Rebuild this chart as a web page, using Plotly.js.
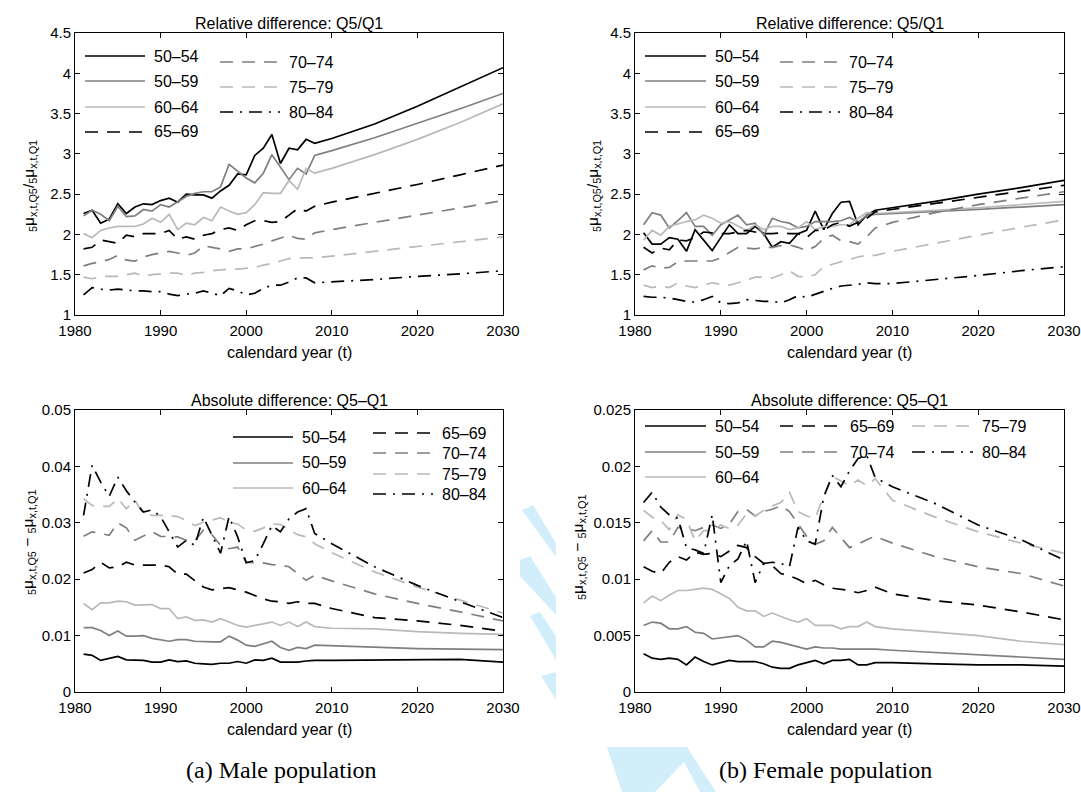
<!DOCTYPE html>
<html>
<head>
<meta charset="utf-8">
<script src="https://cdn.plot.ly/plotly-3.0.1.min.js"></script>
<style>
  html, body { margin: 0; padding: 0; background: #fff; }
  #chart { width: 1081px; height: 792px; }
</style>
</head>
<body>
<div id="chart"></div>
<script>
// Observed years 1981-2008, then projection years up to 2030
const yearsObs = [1981,1982,1983,1984,1985,1986,1987,1988,1989,1990,1991,1992,1993,1994,
                  1995,1996,1997,1998,1999,2000,2001,2002,2003,2004,2005,2006,2007,2008];
const yearsProj = [2010,2015,2020,2025,2030];

const ageGroups = ['50–54','50–59','60–64','65–69','70–74','75–79','80–84'];

// Male, relative difference Q5/Q1
const maleRel5054 = [2.26,2.30,2.14,2.19,2.38,2.26,2.34,2.38,2.37,2.42,2.45,2.40,2.50,2.49,2.49,2.45,2.54,2.61,2.75,2.74,2.98,3.07,3.24,2.88,3.07,3.05,3.18,3.13, 3.19,3.37,3.59,3.83,4.07];
const maleRel5059 = [2.23,2.30,2.25,2.17,2.35,2.22,2.23,2.31,2.29,2.37,2.34,2.41,2.47,2.51,2.53,2.53,2.59,2.87,2.78,2.70,2.64,2.76,2.99,2.84,2.68,2.82,2.75,2.98, 3.04,3.20,3.38,3.56,3.75];
const maleRel6064 = [2.01,1.96,2.05,2.08,2.10,2.10,2.10,2.13,2.20,2.15,2.25,2.06,2.14,2.12,2.21,2.17,2.34,2.29,2.25,2.27,2.37,2.52,2.51,2.51,2.67,2.56,2.82,2.76, 2.82,2.99,3.18,3.39,3.62];
const maleRel6569 = [1.82,1.84,1.93,1.91,1.89,1.99,1.97,2.01,2.01,2.01,2.05,1.94,1.97,1.94,1.99,2.01,2.06,2.08,2.05,2.12,2.17,2.17,2.15,2.16,2.24,2.32,2.29,2.35, 2.40,2.51,2.62,2.74,2.86];
const maleRel7074 = [1.61,1.64,1.66,1.69,1.74,1.68,1.67,1.72,1.75,1.77,1.79,1.77,1.74,1.77,1.86,1.84,1.82,1.79,1.82,1.82,1.85,1.88,1.92,1.96,1.99,1.95,1.94,2.02, 2.06,2.15,2.24,2.33,2.42];
const maleRel7579 = [1.47,1.45,1.48,1.48,1.48,1.50,1.52,1.48,1.50,1.51,1.52,1.52,1.49,1.52,1.53,1.55,1.56,1.57,1.57,1.58,1.59,1.62,1.64,1.67,1.70,1.71,1.71,1.71, 1.73,1.79,1.85,1.91,1.97];
const maleRel8084 = [1.25,1.34,1.32,1.31,1.32,1.31,1.30,1.30,1.29,1.29,1.26,1.24,1.26,1.27,1.30,1.27,1.24,1.33,1.30,1.25,1.27,1.33,1.37,1.37,1.41,1.46,1.46,1.40, 1.41,1.44,1.48,1.51,1.55];

// Female, relative difference Q5/Q1
const femaleRel5054 = [2.02,1.88,1.88,1.96,1.94,1.79,2.06,1.93,1.80,1.96,2.12,2.01,2.01,2.10,2.01,1.84,1.91,1.89,2.01,2.05,2.29,2.06,2.26,2.40,2.41,2.12,2.24,2.30, 2.33,2.41,2.50,2.58,2.67];
const femaleRel5059 = [2.12,2.27,2.24,2.08,2.17,2.27,2.10,2.10,1.99,2.12,2.18,2.24,2.12,2.14,1.99,2.20,2.16,2.14,2.08,2.10,2.16,2.16,2.16,2.17,2.21,2.15,2.24,2.25, 2.26,2.28,2.31,2.34,2.37];
const femaleRel6064 = [1.93,2.05,1.99,2.10,2.13,2.16,2.18,2.24,2.20,2.14,2.16,2.10,2.05,2.12,2.06,2.10,2.10,2.06,2.08,2.16,2.06,2.10,2.10,2.12,2.12,2.20,2.27,2.26, 2.27,2.30,2.33,2.37,2.41];
const femaleRel6569 = [1.84,1.77,1.83,1.81,1.93,1.92,1.96,2.03,2.02,2.01,2.01,2.03,2.05,2.03,2.01,2.01,2.02,2.01,2.01,1.96,2.05,2.05,2.12,2.15,2.10,2.15,2.20,2.28, 2.31,2.38,2.46,2.53,2.61];
const femaleRel7074 = [1.56,1.61,1.58,1.59,1.66,1.67,1.67,1.67,1.67,1.71,1.77,1.84,1.83,1.82,1.84,1.84,1.86,1.87,1.84,1.80,1.85,1.95,1.99,1.92,1.91,1.88,1.97,2.08, 2.15,2.27,2.37,2.45,2.53];
const femaleRel7579 = [1.37,1.34,1.36,1.34,1.40,1.36,1.34,1.37,1.40,1.38,1.37,1.40,1.44,1.47,1.47,1.46,1.50,1.55,1.48,1.47,1.50,1.60,1.63,1.66,1.69,1.72,1.74,1.74, 1.79,1.89,1.99,2.09,2.18];
const femaleRel8084 = [1.23,1.22,1.22,1.21,1.19,1.17,1.16,1.19,1.23,1.15,1.14,1.15,1.19,1.18,1.17,1.17,1.15,1.19,1.24,1.22,1.26,1.29,1.33,1.36,1.37,1.38,1.40,1.39, 1.39,1.44,1.49,1.55,1.60];

// Male, absolute difference Q5-Q1
const maleAbs5054 = [0.0067,0.0065,0.0056,0.0059,0.0063,0.0057,0.0056,0.0056,0.0053,0.0053,0.0057,0.0054,0.0055,0.0051,0.0050,0.0049,0.0051,0.0051,0.0054,0.0051,0.0057,0.0056,0.0060,0.0053,0.0053,0.0053,0.0055,0.0056, 0.0056,0.0057,0.0058,0.0058,0.0053];
const maleAbs5059 = [0.0114,0.0114,0.0109,0.0100,0.0108,0.0099,0.0099,0.0100,0.0095,0.0093,0.0090,0.0093,0.0093,0.0090,0.0089,0.0089,0.0089,0.0099,0.0092,0.0083,0.0081,0.0085,0.0090,0.0079,0.0074,0.0079,0.0077,0.0083, 0.0082,0.0079,0.0077,0.0076,0.0075];
const maleAbs6064 = [0.0157,0.0146,0.0158,0.0158,0.0161,0.0160,0.0154,0.0155,0.0155,0.0148,0.0148,0.0130,0.0133,0.0127,0.0128,0.0124,0.0130,0.0124,0.0118,0.0115,0.0118,0.0122,0.0124,0.0118,0.0124,0.0116,0.0124,0.0116, 0.0113,0.0112,0.0107,0.0104,0.0102];
const maleAbs6569 = [0.0211,0.0217,0.0230,0.0220,0.0222,0.0230,0.0225,0.0225,0.0225,0.0225,0.0222,0.0209,0.0209,0.0198,0.0186,0.0181,0.0183,0.0185,0.0181,0.0177,0.0171,0.0165,0.0161,0.0160,0.0157,0.0160,0.0157,0.0157, 0.0148,0.0132,0.0126,0.0118,0.0108];
const maleAbs7074 = [0.0276,0.0284,0.0281,0.0278,0.0300,0.0291,0.0269,0.0276,0.0284,0.0276,0.0276,0.0275,0.0269,0.0268,0.0287,0.0279,0.0260,0.0254,0.0257,0.0230,0.0229,0.0229,0.0226,0.0225,0.0222,0.0210,0.0198,0.0207, 0.0197,0.0174,0.0157,0.0142,0.0126];
const maleAbs7579 = [0.0343,0.0331,0.0329,0.0329,0.0343,0.0325,0.0340,0.0315,0.0313,0.0313,0.0313,0.0311,0.0304,0.0295,0.0301,0.0305,0.0309,0.0301,0.0298,0.0287,0.0285,0.0291,0.0298,0.0297,0.0288,0.0279,0.0275,0.0263, 0.0247,0.0213,0.0186,0.0163,0.0140];
const maleAbs8084 = [0.0313,0.0402,0.0372,0.0347,0.0381,0.0357,0.0337,0.0319,0.0323,0.0311,0.0284,0.0257,0.0269,0.0260,0.0310,0.0278,0.0246,0.0311,0.0275,0.0229,0.0233,0.0263,0.0295,0.0284,0.0307,0.0319,0.0325,0.0281, 0.0263,0.0222,0.0189,0.0160,0.0132];

// Female, absolute difference Q5-Q1
const femaleAbs5054 = [0.0034,0.0030,0.0029,0.0030,0.0029,0.0024,0.0031,0.0027,0.0024,0.0026,0.0028,0.0027,0.0027,0.0027,0.0025,0.0022,0.0021,0.0021,0.0024,0.0026,0.0028,0.0025,0.0028,0.0028,0.0029,0.0024,0.0024,0.0026, 0.0026,0.0025,0.0024,0.0024,0.0023];
const femaleAbs5059 = [0.0059,0.0062,0.0061,0.0056,0.0056,0.0058,0.0053,0.0052,0.0047,0.0048,0.0049,0.0050,0.0046,0.0040,0.0040,0.0045,0.0044,0.0042,0.0040,0.0038,0.0040,0.0039,0.0039,0.0038,0.0038,0.0038,0.0038,0.0038, 0.0037,0.0035,0.0033,0.0031,0.0029];
const femaleAbs6064 = [0.0079,0.0085,0.0081,0.0086,0.0090,0.0090,0.0091,0.0092,0.0091,0.0087,0.0083,0.0075,0.0072,0.0072,0.0067,0.0070,0.0067,0.0064,0.0062,0.0065,0.0059,0.0059,0.0059,0.0056,0.0058,0.0058,0.0062,0.0058, 0.0056,0.0053,0.0050,0.0045,0.0042];
const femaleAbs6569 = [0.0111,0.0107,0.0105,0.0115,0.0120,0.0117,0.0124,0.0122,0.0123,0.0120,0.0125,0.0130,0.0128,0.0120,0.0114,0.0112,0.0105,0.0103,0.0100,0.0096,0.0099,0.0095,0.0092,0.0091,0.0090,0.0088,0.0090,0.0093, 0.0087,0.0081,0.0077,0.0071,0.0064];
const femaleAbs7074 = [0.0134,0.0143,0.0133,0.0133,0.0146,0.0145,0.0143,0.0146,0.0148,0.0145,0.0149,0.0160,0.0162,0.0156,0.0160,0.0162,0.0165,0.0160,0.0149,0.0138,0.0131,0.0134,0.0146,0.0137,0.0128,0.0131,0.0135,0.0138, 0.0132,0.0120,0.0111,0.0105,0.0094];
const femaleAbs7579 = [0.0161,0.0155,0.0152,0.0144,0.0157,0.0153,0.0134,0.0143,0.0143,0.0148,0.0145,0.0148,0.0158,0.0156,0.0161,0.0165,0.0168,0.0177,0.0160,0.0156,0.0154,0.0174,0.0191,0.0187,0.0183,0.0188,0.0183,0.0189, 0.0170,0.0155,0.0142,0.0132,0.0123];
const femaleAbs8084 = [0.0168,0.0177,0.0164,0.0157,0.0154,0.0128,0.0126,0.0123,0.0157,0.0097,0.0112,0.0118,0.0134,0.0097,0.0114,0.0115,0.0114,0.0111,0.0146,0.0134,0.0131,0.0173,0.0192,0.0182,0.0196,0.0207,0.0210,0.0190, 0.0182,0.0167,0.0148,0.0135,0.0117];

const xTickVals = [1980,1990,2000,2010,2020,2030];
const relTickVals = [1,1.5,2,2.5,3,3.5,4,4.5];
const relTickText = ['1','1.5','2','2.5','3','3.5','4','4.5'];
const maleAbsTickVals = [0,0.01,0.02,0.03,0.04,0.05];
const maleAbsTickText = ['0','0.01','0.02','0.03','0.04','0.05'];
const femaleAbsTickVals = [0,0.005,0.01,0.015,0.02,0.025];
const femaleAbsTickText = ['0','0.005','0.01','0.015','0.02','0.025'];

// ---- styling ----
const W = 1081, H = 792;
const fx = p => p / W;
const fy = p => 1 - p / H;
const FONT = 'Liberation Sans, Arial, Helvetica, sans-serif';
const DASH = '13px,9px';
const DASHDOT = '13px,7px,2px,7px';
const BLACK = '#000000', MID = '#7f7f7f', LIGHT = '#b9b9b9';
const lineStyle = {
  '50–54': {color: BLACK, dash: 'solid'},
  '50–59': {color: MID,   dash: 'solid'},
  '60–64': {color: LIGHT, dash: 'solid'},
  '65–69': {color: BLACK, dash: DASH},
  '70–74': {color: MID,   dash: DASH},
  '75–79': {color: LIGHT, dash: DASH},
  '80–84': {color: BLACK, dash: DASHDOT}
};
const LW = 1.7;
const allYears = yearsObs.concat(yearsProj);

const panels = [
  {xa: 'x',  ya: 'y',  series: [maleRel5054, maleRel5059, maleRel6064, maleRel6569, maleRel7074, maleRel7579, maleRel8084]},
  {xa: 'x2', ya: 'y2', series: [femaleRel5054, femaleRel5059, femaleRel6064, femaleRel6569, femaleRel7074, femaleRel7579, femaleRel8084]},
  {xa: 'x3', ya: 'y3', series: [maleAbs5054, maleAbs5059, maleAbs6064, maleAbs6569, maleAbs7074, maleAbs7579, maleAbs8084]},
  {xa: 'x4', ya: 'y4', series: [femaleAbs5054, femaleAbs5059, femaleAbs6064, femaleAbs6569, femaleAbs7074, femaleAbs7579, femaleAbs8084]}
];

const traces = [];
panels.forEach(p => {
  p.series.forEach((vals, i) => {
    const st = lineStyle[ageGroups[i]];
    traces.push({
      type: 'scatter', mode: 'lines',
      x: allYears, y: vals,
      xaxis: p.xa, yaxis: p.ya,
      name: ageGroups[i], showlegend: false,
      line: {color: st.color, dash: st.dash, width: LW}
    });
  });
});

// plot boxes in pixels
const colPx = [[75, 503], [635, 1064]];
const rowPx = [[33, 315], [410, 692]];

function xAxis(col) {
  return {
    domain: [fx(colPx[col][0]), fx(colPx[col][1])],
    range: [1980, 2030], tickvals: xTickVals,
    ticks: 'inside', ticklen: 5, tickcolor: '#000', tickwidth: 1,
    showline: true, mirror: 'allticks', linecolor: '#000', linewidth: 1,
    showgrid: false, zeroline: false, ticklabelstandoff: 2,
    tickfont: {family: FONT, size: 15, color: '#000'}
  };
}
function yAxis(row, col, range, vals, text) {
  return {
    domain: [fy(rowPx[row][1]), fy(rowPx[row][0])],
    range: range, tickvals: vals, ticktext: text,
    ticks: 'inside', ticklen: 5, tickcolor: '#000', tickwidth: 1,
    showline: true, mirror: 'allticks', linecolor: '#000', linewidth: 1,
    showgrid: false, zeroline: false,
    tickfont: {family: FONT, size: 15, color: '#000'}
  };
}

const annotations = [];
const shapes = [];
function label(text, x, y, opts) {
  annotations.push(Object.assign({
    text: text, xref: 'paper', yref: 'paper', x: fx(x), y: fy(y),
    xanchor: 'center', yanchor: 'middle', showarrow: false,
    font: {family: FONT, size: 16, color: '#000'}
  }, opts || {}));
}

// panel titles and axis titles
const titles = ['Relative difference: Q5/Q1', 'Absolute difference: Q5–Q1'];
[0, 1].forEach(row => {
  [0, 1].forEach(col => {
    const cx = (colPx[col][0] + colPx[col][1]) / 2;
    label(titles[row], cx, row === 0 ? 23 : 400);
    label('calendard year (t)', cx, row === 0 ? 352 : 729);
  });
});
const relYTitle = '<sub>5</sub>μ<sub>x,t,Q5</sub>/<sub>5</sub>μ<sub>x,t,Q1</sub>';
const absYTitle = '<sub>5</sub>μ<sub>x,t,Q5</sub> − <sub>5</sub>μ<sub>x,t,Q1</sub>';
const yTitleFont = {family: FONT, size: 15.5, color: '#000'};
label(relYTitle, 29, 186, {textangle: -90, font: yTitleFont});
label(relYTitle, 593, 186, {textangle: -90, font: yTitleFont});
label(absYTitle, 28, 543, {textangle: -90, font: yTitleFont});
label(absYTitle, 578, 548, {textangle: -90, font: yTitleFont});

// sub-figure captions
const SERIF = 'Liberation Serif, Times New Roman, serif';
label('(a) Male population', 281, 770, {font: {family: SERIF, size: 24, color: '#000'}});
label('(b) Female population', 825, 770, {font: {family: SERIF, size: 24, color: '#000'}});

// legend blocks: [group index, line x0, line x1, y]
const legendBlocks = [
  // top-left
  [0, 85, 145, 56], [1, 85, 145, 81], [2, 85, 145, 107], [3, 85, 145, 132],
  [4, 220, 280, 62], [5, 220, 280, 87], [6, 220, 280, 112],
  // top-right
  [0, 645, 706, 56], [1, 645, 706, 81], [2, 645, 706, 107], [3, 645, 706, 132],
  [4, 780, 840, 62], [5, 780, 840, 87], [6, 780, 840, 112],
  // bottom-left
  [0, 233, 293, 437], [1, 233, 293, 463], [2, 233, 293, 488],
  [3, 373, 433, 433], [4, 373, 433, 453], [5, 373, 433, 474], [6, 373, 433, 494],
  // bottom-right
  [0, 645, 706, 426], [1, 645, 706, 452], [2, 645, 706, 477],
  [3, 780, 841, 426], [4, 780, 841, 452],
  [5, 912, 973, 426], [6, 912, 973, 452]
];
legendBlocks.forEach(([g, x0, x1, y]) => {
  const st = lineStyle[ageGroups[g]];
  shapes.push({
    type: 'line', xref: 'paper', yref: 'paper',
    x0: fx(x0), x1: fx(x1), y0: fy(y), y1: fy(y),
    line: {color: st.color, dash: st.dash, width: LW}
  });
  label(ageGroups[g], x1 + 7, y, {xanchor: 'left'});
});

// light-blue background mark between and below the panels
const WM = '#d3eefb';
function poly(pts) {
  return 'M' + pts.map(p => fx(p[0]) + ',' + fy(p[1])).join('L') + 'Z';
}
[
  [[522, 510], [533, 505], [556, 543], [556, 557]],
  [[520, 560], [530, 556], [556, 597], [556, 615], [520, 576]],
  [[530, 616], [540, 612], [556, 636], [556, 660]],
  [[541, 676], [556, 672], [556, 700]],
  [[607, 747], [687, 747], [716, 792], [622, 792]]
].forEach(pts => shapes.push({
  type: 'path', xref: 'paper', yref: 'paper', path: poly(pts),
  fillcolor: WM, line: {width: 0}, layer: 'below'
}));
shapes.push({
  type: 'path', xref: 'paper', yref: 'paper',
  path: poly([[655, 792], [684, 762], [700, 792]]),
  fillcolor: '#ffffff', line: {width: 0}, layer: 'below'
});

const layout = {
  width: W, height: H,
  margin: {l: 0, r: 0, t: 0, b: 0},
  paper_bgcolor: '#ffffff', plot_bgcolor: '#ffffff',
  showlegend: false,
  xaxis: Object.assign(xAxis(0), {anchor: 'y'}),
  yaxis: Object.assign(yAxis(0, 0, [1, 4.5], relTickVals, relTickText), {anchor: 'x'}),
  xaxis2: Object.assign(xAxis(1), {anchor: 'y2'}),
  yaxis2: Object.assign(yAxis(0, 1, [1, 4.5], relTickVals, relTickText), {anchor: 'x2'}),
  xaxis3: Object.assign(xAxis(0), {anchor: 'y3'}),
  yaxis3: Object.assign(yAxis(1, 0, [0, 0.05], maleAbsTickVals, maleAbsTickText), {anchor: 'x3'}),
  xaxis4: Object.assign(xAxis(1), {anchor: 'y4'}),
  yaxis4: Object.assign(yAxis(1, 1, [0, 0.025], femaleAbsTickVals, femaleAbsTickText), {anchor: 'x4'}),
  annotations: annotations,
  shapes: shapes
};

Plotly.newPlot('chart', traces, layout, {staticPlot: true, displayModeBar: false});
</script>
</body>
</html>
